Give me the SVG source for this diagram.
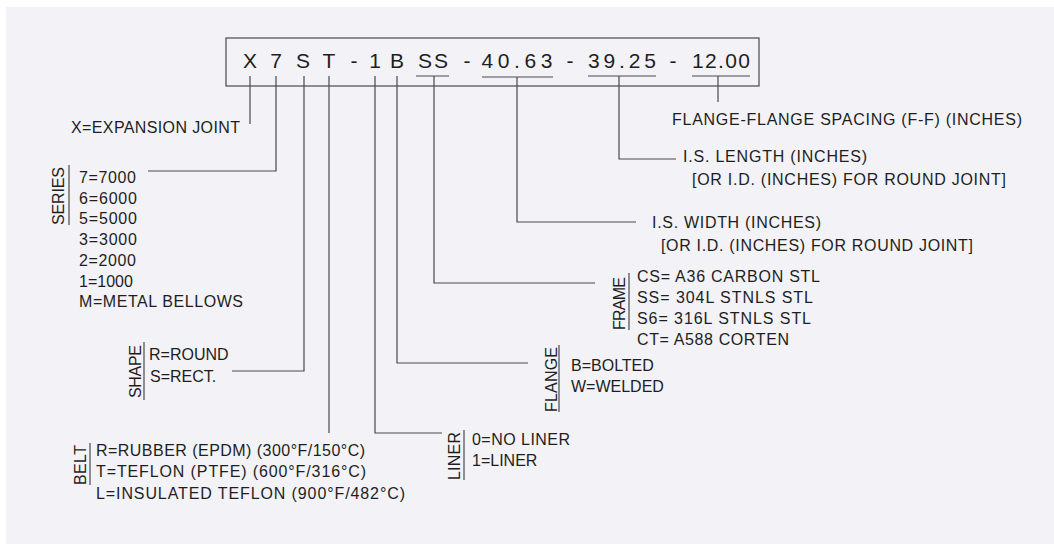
<svg xmlns="http://www.w3.org/2000/svg" width="1054" height="544" viewBox="0 0 1054 544">
<style>
.t{font-family:"Liberation Sans",Arial,sans-serif;font-size:16px;fill:#1e1e1e}
.h{font-family:"Liberation Sans",Arial,sans-serif;font-size:21px;fill:#1e1e1e;text-anchor:middle}
.r{font-family:"Liberation Sans",Arial,sans-serif;font-size:16px;fill:#1e1e1e;text-anchor:middle}
.ln{stroke:#4a4a4a;stroke-width:1.2;fill:none}
</style>
<rect x="0" y="0" width="1054" height="544" fill="#ffffff"/>
<rect x="6" y="7" width="1048" height="537" fill="#f2f2f7"/>

<g id="code">
<rect x="226" y="38" width="533" height="48" class="ln"/>
<text class="h" x="250" y="68">X</text>
<text class="h" x="276" y="68">7</text>
<text class="h" x="303" y="68">S</text>
<text class="h" x="329" y="68">T</text>
<text class="h" x="354" y="68">-</text>
<text class="h" x="375" y="68">1</text>
<text class="h" x="397" y="68">B</text>
<text class="h" x="433" y="68" textLength="30" lengthAdjust="spacing">SS</text>
<text class="h" x="467" y="68">-</text>
<text class="h" x="517" y="68" textLength="71" lengthAdjust="spacing">40.63</text>
<text class="h" x="570" y="68">-</text>
<text class="h" x="622" y="68" textLength="68" lengthAdjust="spacing">39.25</text>
<text class="h" x="673" y="68">-</text>
<text class="h" x="721" y="68" textLength="58" lengthAdjust="spacing">12.00</text>
<path class="ln" d="M416 76H449M482 77H553M588 76H656M692 76H750"/>
</g>

<g id="connectors">
<path class="ln" d="M250 76V124"/>
<path class="ln" d="M276 76V171H148"/>
<path class="ln" d="M304 76V371H232"/>
<path class="ln" d="M329 76V433"/>
<path class="ln" d="M375 76V433H442"/>
<path class="ln" d="M397 76V363H528"/>
<path class="ln" d="M434 76V283H595"/>
<path class="ln" d="M517 77V222H636"/>
<path class="ln" d="M619 76V159H676"/>
<path class="ln" d="M718 76V102"/>
</g>

<g id="expansion">
<text class="t" x="71" y="133" textLength="169" lengthAdjust="spacing">X=EXPANSION JOINT</text>
</g>

<g id="series">
<text class="r" transform="translate(64 196) rotate(-90)" textLength="58" lengthAdjust="spacing">SERIES</text>
<path class="ln" d="M69 165V225"/>
<text class="t" x="79" y="183" textLength="57" lengthAdjust="spacing">7=7000</text>
<text class="t" x="79" y="204" textLength="58" lengthAdjust="spacing">6=6000</text>
<text class="t" x="79" y="224" textLength="58" lengthAdjust="spacing">5=5000</text>
<text class="t" x="79" y="245" textLength="58" lengthAdjust="spacing">3=3000</text>
<text class="t" x="79" y="266" textLength="57" lengthAdjust="spacing">2=2000</text>
<text class="t" x="79" y="287">1=1000</text>
<text class="t" x="79" y="307" textLength="164" lengthAdjust="spacing">M=METAL BELLOWS</text>
</g>

<g id="shape">
<text class="r" transform="translate(141 371.5) rotate(-90)" textLength="53" lengthAdjust="spacing">SHAPE</text>
<path class="ln" d="M144 342V400"/>
<text class="t" x="149" y="360">R=ROUND</text>
<text class="t" x="150" y="382">S=RECT.</text>
</g>

<g id="belt">
<text class="r" transform="translate(86 465) rotate(-90)" textLength="40" lengthAdjust="spacing">BELT</text>
<path class="ln" d="M90 443V485"/>
<text class="t" x="96" y="456" textLength="269" lengthAdjust="spacing">R=RUBBER (EPDM) (300°F/150°C)</text>
<text class="t" x="96" y="477" textLength="270" lengthAdjust="spacing">T=TEFLON (PTFE) (600°F/316°C)</text>
<text class="t" x="96" y="499" textLength="309" lengthAdjust="spacing">L=INSULATED TEFLON (900°F/482°C)</text>
</g>

<g id="liner">
<text class="r" transform="translate(460 456) rotate(-90)" textLength="48" lengthAdjust="spacing">LINER</text>
<path class="ln" d="M464 430V480"/>
<text class="t" x="472" y="445" textLength="98" lengthAdjust="spacing">0=NO LINER</text>
<text class="t" x="472" y="466">1=LINER</text>
</g>

<g id="flange">
<text class="r" transform="translate(557 379.5) rotate(-90)" textLength="65" lengthAdjust="spacing">FLANGE</text>
<path class="ln" d="M559 345V412"/>
<text class="t" x="571" y="371">B=BOLTED</text>
<text class="t" x="571" y="392">W=WELDED</text>
</g>

<g id="frame">
<text class="r" transform="translate(625 303.5) rotate(-90)" textLength="53" lengthAdjust="spacing">FRAME</text>
<path class="ln" d="M629 273V330"/>
<text class="t" x="637" y="282" textLength="183" lengthAdjust="spacing">CS= A36 CARBON STL</text>
<text class="t" x="637" y="303" textLength="176" lengthAdjust="spacing">SS= 304L STNLS STL</text>
<text class="t" x="637" y="324" textLength="174" lengthAdjust="spacing">S6= 316L STNLS STL</text>
<text class="t" x="637" y="345" textLength="152" lengthAdjust="spacing">CT= A588 CORTEN</text>
</g>

<g id="width">
<text class="t" x="652" y="228" textLength="169" lengthAdjust="spacing">I.S. WIDTH (INCHES)</text>
<text class="t" x="661" y="251" textLength="312" lengthAdjust="spacing">[OR I.D. (INCHES) FOR ROUND JOINT]</text>
</g>

<g id="length">
<text class="t" x="683" y="162" textLength="184" lengthAdjust="spacing">I.S. LENGTH (INCHES)</text>
<text class="t" x="692" y="185" textLength="314" lengthAdjust="spacing">[OR I.D. (INCHES) FOR ROUND JOINT]</text>
</g>

<g id="spacing">
<text class="t" x="672" y="125" textLength="350" lengthAdjust="spacing">FLANGE-FLANGE SPACING (F-F) (INCHES)</text>
</g>
</svg>
